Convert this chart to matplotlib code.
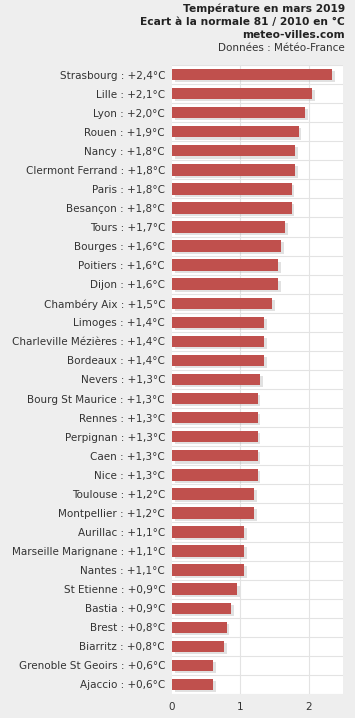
import matplotlib
matplotlib.use("Agg")
import matplotlib.pyplot as plt
import matplotlib.patheffects as pe

cities = ["Strasbourg", "Lille", "Lyon", "Rouen", "Nancy", "Clermont Ferrand", "Paris",
          "Besançon", "Tours", "Bourges", "Poitiers", "Dijon", "Chambéry Aix", "Limoges",
          "Charleville Mézières", "Bordeaux", "Nevers", "Bourg St Maurice", "Rennes",
          "Perpignan", "Caen", "Nice", "Toulouse", "Montpellier", "Aurillac",
          "Marseille Marignane", "Nantes", "St Etienne", "Bastia", "Brest", "Biarritz",
          "Grenoble St Geoirs", "Ajaccio"]
labels_val = ["+2,4", "+2,1", "+2,0", "+1,9", "+1,8", "+1,8", "+1,8", "+1,8", "+1,7", "+1,6",
              "+1,6", "+1,6", "+1,5", "+1,4", "+1,4", "+1,4", "+1,3", "+1,3", "+1,3", "+1,3",
              "+1,3", "+1,3", "+1,2", "+1,2", "+1,1", "+1,1", "+1,1", "+0,9", "+0,9", "+0,8",
              "+0,8", "+0,6", "+0,6"]
values = [2.34, 2.05, 1.95, 1.85, 1.80, 1.80, 1.75, 1.75, 1.65, 1.60, 1.55, 1.55, 1.46, 1.35,
          1.35, 1.35, 1.29, 1.25, 1.25, 1.25, 1.25, 1.25, 1.20, 1.20, 1.05, 1.05, 1.05, 0.95,
          0.86, 0.80, 0.76, 0.60, 0.60]
xticks = [0, 1, 2]

W, H = 355, 718
fig = plt.figure(figsize=(W / 100, H / 100), dpi=100, facecolor="#EEEEEE")
ax = fig.add_axes([172 / W, 1 - 694 / H, (343 - 172) / W, (694 - 65) / H])
ax.set_facecolor("white")

n = len(cities)
ypos = list(range(n))
bars = ax.barh(ypos, values, height=0.6, color="#C0504D", zorder=3)
for b in bars:
    b.set_path_effects([pe.SimplePatchShadow(offset=(2, -1.5), shadow_rgbFace="#AAAAAA", alpha=0.35),
                        pe.Normal()])

ax.set_ylim(n - 0.5, -0.5)
ax.set_xlim(0, 2.5)
ax.set_yticks(ypos)
ax.set_yticklabels([f"{c} : {v}°C" for c, v in zip(cities, labels_val)])
ax.set_xticks(xticks)
ax.set_xticklabels([str(t) for t in xticks])
ax.tick_params(axis="both", length=0, labelsize=7.5, colors="#333333")
ax.tick_params(axis="y", pad=5)
ax.tick_params(axis="x", pad=6)

for y in [i + 0.5 for i in range(-1, n)]:
    ax.axhline(y, color="#E3E3E3", lw=0.8, zorder=1)
for x in xticks[1:]:
    ax.axvline(x, color="#E3E3E3", lw=0.8, zorder=1)
for s in ax.spines.values():
    s.set_visible(False)

tc = "#222222"
fig.text(345 / W, 1 - 9 / H, "Température en mars 2019", ha="right", va="center",
         fontsize=7.7, fontweight="bold", color=tc)
fig.text(345 / W, 1 - 22 / H, "Ecart à la normale 81 / 2010 en °C", ha="right", va="center",
         fontsize=7.7, fontweight="bold", color=tc)
fig.text(345 / W, 1 - 35 / H, "meteo-villes.com", ha="right", va="center",
         fontsize=7.7, fontweight="bold", color=tc)
fig.text(345 / W, 1 - 48 / H, "Données : Météo-France", ha="right", va="center",
         fontsize=7.5, color="#333333")

fig.savefig("out.png", dpi=100, facecolor=fig.get_facecolor())
